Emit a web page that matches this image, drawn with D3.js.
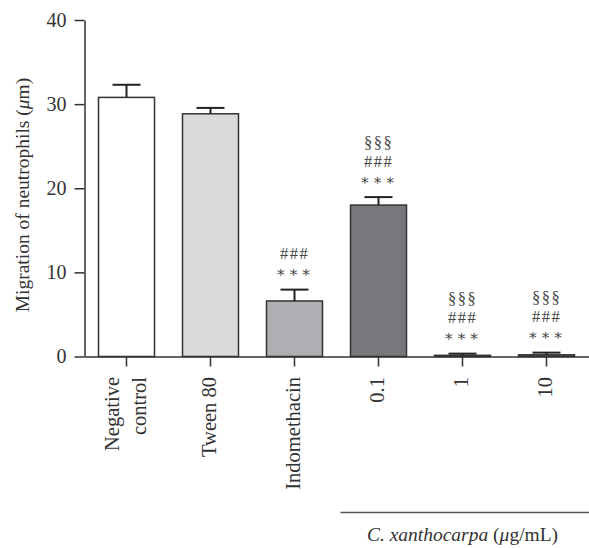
<!DOCTYPE html>
<html>
<head>
<meta charset="utf-8">
<script src="https://cdn.jsdelivr.net/npm/d3@7"></script>
<style>
  body { margin: 0; background: #fff; }
</style>
</head>
<body>
<svg id="chart" width="589" height="548"></svg>
<script>
// Neutrophil migration per treatment group (mean ± SEM, µm)
const groups = ["Negative control", "Tween 80", "Indomethacin", "0.1", "1", "10"];
const groupLabelLines = [["Negative", "control"], ["Tween 80"], ["Indomethacin"], ["0.1"], ["1"], ["10"]];
const means = [30.8, 28.85, 6.6, 18.0, 0.14, 0.2];
const errors = [1.5, 0.7, 1.35, 0.95, 0.2, 0.26];
const barFills = ["#ffffff", "#d9dadc", "#aeafb2", "#77787c", "#3a3a3c", "#7d7e81"];
// significance marks, listed from the row nearest the bar upwards
const sigStars = ["", "", "∗∗∗", "∗∗∗", "∗∗∗", "∗∗∗"];
const sigHashes = ["", "", "###", "###", "###", "###"];
const sigSections = ["", "", "", "§§§", "§§§", "§§§"];
const yTicks = [0, 10, 20, 30, 40];
const extractGroups = ["0.1", "1", "10"];

const serif = "Liberation Serif, DejaVu Serif, serif";
const svg = d3.select("#chart");
const axisColor = "#333";

const y = d3.scaleLinear().domain([0, 40]).range([356.5, 20]);
const x = d3.scaleBand().domain(groups).range([84.5, 588.5])
  .paddingInner(1 / 3).paddingOuter(1 / 6);
const bw = x.bandwidth();

// bars
svg.append("g").selectAll("rect").data(groups).join("rect")
  .attr("x", d => x(d))
  .attr("y", (d, i) => y(means[i]))
  .attr("width", bw)
  .attr("height", (d, i) => y(0) - y(means[i]))
  .attr("fill", (d, i) => barFills[i])
  .attr("stroke", axisColor)
  .attr("stroke-width", 1.5);

// error bars (upper whisker only)
const eb = svg.append("g").attr("stroke", "#222").attr("stroke-width", 2);
groups.forEach((g, i) => {
  const cx = x(g) + bw / 2;
  eb.append("line").attr("x1", cx).attr("x2", cx)
    .attr("y1", y(means[i])).attr("y2", y(means[i] + errors[i]));
  eb.append("line").attr("x1", cx - 14).attr("x2", cx + 14)
    .attr("y1", y(means[i] + errors[i])).attr("y2", y(means[i] + errors[i]));
});

// significance annotations, stacked above each whisker
const rows = [sigStars, sigHashes, sigSections];
const ann = svg.append("g").attr("fill", "#444").attr("text-anchor", "middle")
  .attr("font-family", serif);
groups.forEach((g, i) => {
  const present = rows.map(r => r[i]).filter(Boolean);
  if (!present.length) return;
  const cx = x(g) + bw / 2;
  const top = y(means[i] + errors[i]);
  present.forEach((s, r) => {
    ann.append("text")
      .attr("x", cx)
      .attr("y", top - 17 - 19 * r)
      .attr("dy", r === 0 ? "0.3em" : "0.33em")
      .attr("letter-spacing", r === 0 ? "2.5px" : "1.5px")
      .attr("font-family", r === 0 ? "DejaVu Serif, serif" : null)
      .attr("font-size", r === 0 ? 15 : 16.5)
      .text(s);
  });
});

// y axis
const yAxis = svg.append("g").attr("transform", `translate(${84.5},0)`)
  .call(d3.axisLeft(y).tickValues(yTicks).tickSize(10).tickSizeOuter(0).tickPadding(8));
yAxis.attr("font-family", serif).attr("font-size", 20);
yAxis.select(".domain").attr("stroke", axisColor).attr("stroke-width", 1.5);
yAxis.selectAll(".tick line").attr("stroke", axisColor).attr("stroke-width", 1.5);
yAxis.selectAll(".tick text").attr("fill", "#333");

// x axis
const xAxis = svg.append("g").attr("transform", `translate(0,${y(0)})`)
  .call(d3.axisBottom(x).tickSize(10).tickSizeOuter(0).tickFormat(""));
xAxis.select(".domain").attr("stroke", axisColor).attr("stroke-width", 1.5);
xAxis.selectAll(".tick line").attr("stroke", axisColor).attr("stroke-width", 1.5);

// rotated category labels
const xl = svg.append("g").attr("fill", "#333").attr("font-family", serif)
  .attr("font-size", 20.5).attr("text-anchor", "end");
groups.forEach((g, i) => {
  const cx = x(g) + bw / 2;
  const lines = groupLabelLines[i];
  lines.forEach((ln, k) => {
    const off = lines.length === 1 ? 5 : (k === 0 ? -8 : 19);
    xl.append("text")
      .attr("transform", `translate(${cx + off},377) rotate(-90)`)
      .text(ln);
  });
});

// y axis title
svg.append("text")
  .attr("transform", `translate(29,195) rotate(-90)`)
  .attr("text-anchor", "middle").attr("fill", "#333")
  .attr("font-family", serif).attr("font-size", 19.5)
  .call(t => {
    t.append("tspan").text("Migration of neutrophils (");
    t.append("tspan").attr("font-style", "italic").text("μ");
    t.append("tspan").text("m)");
  });

// bracket for extract concentrations
const bx0 = x(extractGroups[0]) - 10;
const bx1 = x.range()[1] + 1;
svg.append("line").attr("x1", bx0).attr("x2", bx1).attr("y1", 512.5).attr("y2", 512.5)
  .attr("stroke", "#555").attr("stroke-width", 1.5);
const midX = (x(extractGroups[0]) + x(extractGroups[2]) + bw) / 2;
svg.append("text")
  .attr("x", midX).attr("y", 541).attr("text-anchor", "middle")
  .attr("fill", "#333").attr("font-family", serif).attr("font-size", 19.5)
  .call(t => {
    t.append("tspan").attr("font-style", "italic").text("C. xanthocarpa");
    t.append("tspan").text(" (");
    t.append("tspan").attr("font-style", "italic").text("μ");
    t.append("tspan").text("g/mL)");
  });
</script>
</body>
</html>
